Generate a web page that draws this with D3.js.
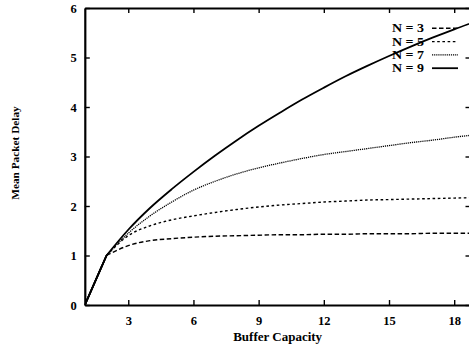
<!DOCTYPE html>
<html>
<head>
<meta charset="utf-8">
<script src="https://cdn.jsdelivr.net/npm/d3@7"></script>
<style>
  html, body { margin: 0; padding: 0; background: #fff; }
  svg { display: block; }
  text { font-family: "Liberation Serif", "Times New Roman", serif; font-weight: bold; fill: #000; }
</style>
</head>
<body>
<svg id="chart" width="469" height="345"></svg>
<script>
// Buffer capacity values (x) and mean packet delay per network size N
const capacity = [1, 2, 3, 4, 5, 6, 7, 8, 9, 10, 11, 12, 13, 14, 15, 16, 17, 18, 19];
const delayN3 = [0, 1.0, 1.2, 1.3, 1.34, 1.37, 1.39, 1.40, 1.41, 1.42, 1.42, 1.43, 1.43, 1.44, 1.44, 1.44, 1.45, 1.45, 1.45];
const delayN5 = [0, 1.0, 1.40, 1.60, 1.72, 1.80, 1.87, 1.93, 1.98, 2.02, 2.05, 2.08, 2.10, 2.12, 2.13, 2.14, 2.15, 2.16, 2.17];
const delayN7 = [0, 1.0, 1.45, 1.80, 2.08, 2.32, 2.50, 2.65, 2.77, 2.87, 2.96, 3.04, 3.10, 3.16, 3.22, 3.28, 3.33, 3.39, 3.44];
const delayN9 = [0, 1.0, 1.52, 1.96, 2.34, 2.69, 3.02, 3.33, 3.62, 3.89, 4.15, 4.39, 4.62, 4.83, 5.03, 5.22, 5.40, 5.57, 5.73];
const seriesNames = ["N = 3", "N = 5", "N = 7", "N = 9"];
const xTicks = [3, 6, 9, 12, 15, 18];
const yTicks = [0, 1, 2, 3, 4, 5, 6];

const svg = d3.select("#chart");
const plotLeft = 84.8, plotRight = 470.5, plotTop = 8, plotBottom = 305;

const x = d3.scaleLinear().domain([1, 18.75]).range([plotLeft, plotRight]);
const y = d3.scaleLinear().domain([0, 6]).range([plotBottom, plotTop]);

const styles = [
  { dash: "4.5,2.5", width: 1.4 },
  { dash: "2.6,2.6", width: 1.4 },
  { dash: "1.2,0.9", width: 1.3 },
  { dash: null, width: 1.8 }
];
const series = [delayN3, delayN5, delayN7, delayN9];

svg.append("defs").append("clipPath").attr("id", "plotClip")
  .append("rect").attr("x", plotLeft).attr("y", plotTop)
  .attr("width", plotRight - plotLeft).attr("height", plotBottom - plotTop);

// curves: shared straight ramp up to capacity 2, smooth growth afterwards
const straight = d3.line()
  .x(d => x(d[0]))
  .y(d => y(d[1]));
const smooth = d3.line()
  .x(d => x(d[0]))
  .y(d => y(d[1]))
  .curve(d3.curveMonotoneX);

const curves = svg.append("g").attr("clip-path", "url(#plotClip)");
series.forEach((vals, k) => {
  const pts = vals.map((v, i) => [capacity[i], v]);
  curves.append("path")
    .attr("d", straight(pts.slice(0, 2)))
    .attr("fill", "none")
    .attr("stroke", "#000")
    .attr("stroke-width", 1.7);
  curves.append("path")
    .attr("d", smooth(pts.slice(1)))
    .attr("fill", "none")
    .attr("stroke", "#000")
    .attr("stroke-width", styles[k].width)
    .attr("stroke-dasharray", styles[k].dash);
});

// axes with inward ticks
function styleAxis(g) {
  g.select(".domain").attr("stroke", "#000").attr("stroke-width", 2.2);
  g.selectAll(".tick line").attr("stroke", "#000").attr("stroke-width", 1.4);
  g.selectAll(".tick text")
    .style("font-family", '"Liberation Serif", serif')
    .style("font-weight", "bold")
    .style("font-size", "12.5px");
}

svg.append("g")
  .attr("transform", `translate(0,${plotBottom})`)
  .call(d3.axisBottom(x).tickValues(xTicks).tickFormat(d3.format("d"))
    .tickSizeInner(-5).tickSizeOuter(0).tickPadding(11))
  .call(styleAxis);

svg.append("g")
  .attr("transform", `translate(0,${plotTop})`)
  .call(d3.axisTop(x).tickValues(xTicks).tickSizeInner(-5).tickSizeOuter(0).tickFormat(""))
  .call(styleAxis);

svg.append("g")
  .attr("transform", `translate(${plotLeft},0)`)
  .call(d3.axisLeft(y).tickValues(yTicks).tickFormat(d3.format("d"))
    .tickSizeInner(-5).tickSizeOuter(0).tickPadding(8))
  .call(styleAxis);

svg.append("g")
  .attr("transform", `translate(${plotRight},0)`)
  .call(d3.axisRight(y).tickValues(yTicks).tickSizeInner(-5).tickSizeOuter(0).tickFormat(""))
  .call(styleAxis);

// axis titles
svg.append("text")
  .attr("x", (plotLeft + plotRight) / 2)
  .attr("y", 340.5)
  .attr("text-anchor", "middle")
  .style("font-size", "13px")
  .text("Buffer Capacity");

svg.append("text")
  .attr("transform", "translate(19,153) rotate(-90)")
  .attr("text-anchor", "middle")
  .style("font-size", "11.3px")
  .text("Mean Packet Delay");

// legend
const legend = svg.append("g");
seriesNames.forEach((name, k) => {
  const cy = 28.3 + k * 13.3;
  legend.append("text")
    .attr("x", 392)
    .attr("y", cy + 4.1)
    .style("font-size", "11.5px")
    .attr("textLength", 32)
    .attr("lengthAdjust", "spacingAndGlyphs")
    .text(name);
  legend.append("line")
    .attr("x1", 432).attr("x2", 458)
    .attr("y1", cy).attr("y2", cy)
    .attr("stroke", "#000")
    .attr("stroke-width", styles[k].width)
    .attr("stroke-dasharray", styles[k].dash);
});
</script>
</body>
</html>
